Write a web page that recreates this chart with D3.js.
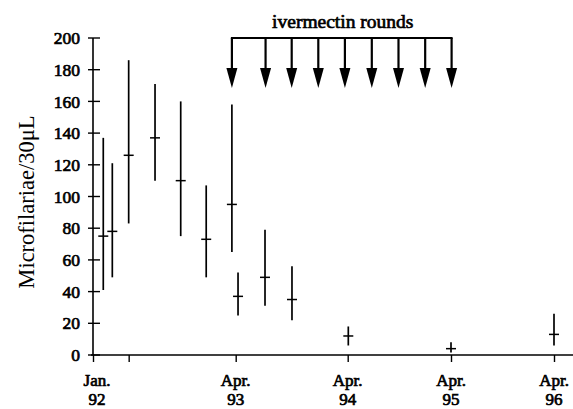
<!DOCTYPE html>
<html><head><meta charset="utf-8">
<script src="https://cdn.jsdelivr.net/npm/d3@7/dist/d3.min.js"></script>
<style>body{margin:0;background:#fff}svg{display:block}
.serif{font-family:"Liberation Serif","Times New Roman",Times,serif;font-weight:normal}
.bold{stroke:#000;stroke-width:0.7px;fill:#000}
</style>
</head><body>
<script>
// Data (months since Jan 1992)
const months = [1.08, 2.03, 3.75, 6.52, 9.22, 11.9, 14.6, 15.25, 18.14, 21.03, 27.07, 39, 51];
const means  = [75, 78, 126, 137, 110, 73, 95, 37, 49, 35, 12, 4, 13];
const lows   = [41, 49, 83, 110, 75, 49, 65, 25, 31, 22, 6, 1.5, 6];
const highs  = [137, 121, 186, 171, 160, 107, 158, 52, 79, 56, 18, 8, 26];
const roundMonths = [14.6, 18.2, 21.0, 23.85, 26.7, 29.8, 32.9, 36.0, 39.07];
const xTickMonths = [0, 3.75, 15, 27, 39, 51];
const xTickLines1 = ["Jan.", "", "Apr.", "Apr.", "Apr.", "Apr."];
const xTickLines2 = ["92", "", "93", "94", "95", "96"];
const yTicks = [0, 20, 40, 60, 80, 100, 120, 140, 160, 180, 200];

const W = 573, H = 409;
const svg = d3.select("body").append("svg").attr("width", W).attr("height", H);

const x = d3.scaleLinear().domain([0, 15, 27, 39, 51]).range([93, 235.7, 347.7, 451, 554]);
const y = d3.scaleLinear().domain([0, 200]).range([355, 38]);

// Y axis
const yAxis = svg.append("g").attr("transform", `translate(${x(0)},0)`)
  .call(d3.axisLeft(y).tickValues(yTicks).tickSize(0).tickPadding(13));
yAxis.attr("font-family", null).attr("font-size", null);
yAxis.select(".domain").remove();
yAxis.selectAll("text").attr("class", "serif bold").style("font-size", "17.5px");
svg.append("line").attr("x1", x(0)).attr("x2", x(0)).attr("y1", y(200)).attr("y2", y(0))
  .attr("stroke", "#000").attr("stroke-width", 1.6);
svg.selectAll(".ytick").data(yTicks).enter().append("line")
  .attr("x1", x(0) - 5).attr("x2", x(0) + 7)
  .attr("y1", d => y(d)).attr("y2", d => y(d))
  .attr("stroke", "#000").attr("stroke-width", 1.4);

// X axis
svg.append("line").attr("x1", x(0) - 2).attr("x2", W).attr("y1", y(0)).attr("y2", y(0))
  .attr("stroke", "#000").attr("stroke-width", 1.6);
const xAxis = svg.append("g").attr("transform", `translate(0,${y(0)})`)
  .call(d3.axisBottom(x).tickValues(xTickMonths).tickSize(7).tickFormat(""));
xAxis.select(".domain").remove();
xAxis.selectAll("line").attr("stroke", "#000").attr("stroke-width", 1.4);
const xl = svg.append("g").attr("text-anchor", "middle");
xTickMonths.forEach((m, i) => {
  if (!xTickLines1[i]) return;
  const cx = i === 0 ? x(m) + 4 : x(m);
  xl.append("text").attr("class", "serif bold").style("font-size", "17px")
    .attr("x", cx).attr("y", 386).text(xTickLines1[i]);
  xl.append("text").attr("class", "serif bold").style("font-size", "17px")
    .attr("x", cx).attr("y", 405).text(xTickLines2[i]);
});

// Y title
svg.append("text").attr("class", "serif").attr("transform", `translate(34,202) rotate(-90)`)
  .attr("text-anchor", "middle").style("font-size", "22.5px")
  .text("Microfilariae/30\u03BCL");

// Error bars
const g = svg.append("g").attr("stroke", "#000");
months.forEach((m, i) => {
  g.append("line").attr("x1", x(m)).attr("x2", x(m)).attr("y1", y(highs[i])).attr("y2", y(lows[i]))
    .attr("stroke-width", 1.7);
  g.append("line").attr("x1", x(m) - 5).attr("x2", x(m) + 5).attr("y1", y(means[i])).attr("y2", y(means[i]))
    .attr("stroke-width", 1.5);
});

// Ivermectin rounds bracket and arrows
const topY = 38, tipY = 88, headH = 20, headW = 5.5;
svg.append("line").attr("x1", x(roundMonths[0]) - 1).attr("x2", x(roundMonths[roundMonths.length - 1]) + 1)
  .attr("y1", topY).attr("y2", topY).attr("stroke", "#000").attr("stroke-width", 2);
roundMonths.forEach(m => {
  const ax = x(m);
  svg.append("line").attr("x1", ax).attr("x2", ax).attr("y1", topY).attr("y2", tipY - headH + 2)
    .attr("stroke", "#000").attr("stroke-width", 2.2);
  svg.append("path").attr("d", `M${ax - headW},${tipY - headH} L${ax + headW},${tipY - headH} L${ax},${tipY} Z`)
    .attr("fill", "#000");
});
svg.append("text").attr("class", "serif bold")
  .attr("x", (x(roundMonths[0]) + x(roundMonths[roundMonths.length - 1])) / 2 + 1)
  .attr("y", 28).attr("text-anchor", "middle")
  .style("font-size", "19.5px").text("ivermectin rounds");
</script>
</body></html>
